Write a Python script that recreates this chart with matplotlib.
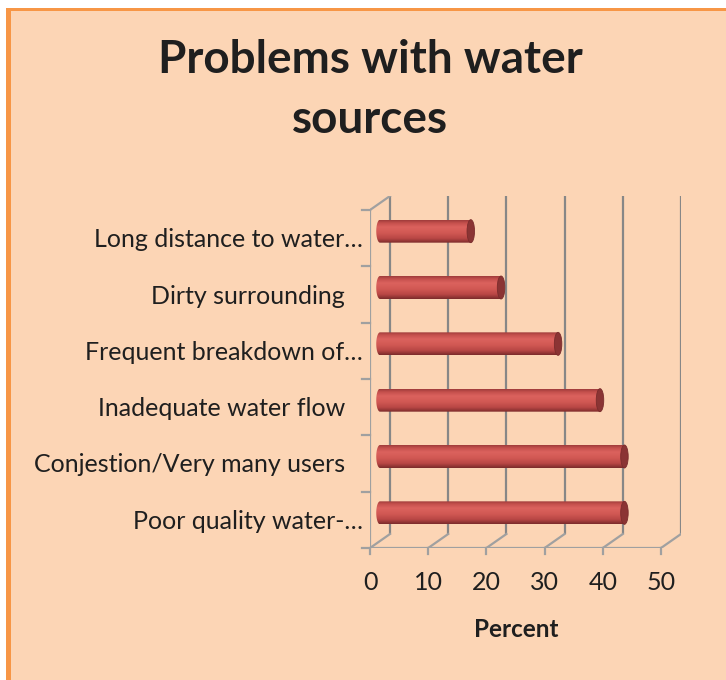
import numpy as np
import matplotlib
matplotlib.use("Agg")
import matplotlib.pyplot as plt
from matplotlib.patches import Ellipse, PathPatch, Rectangle
from matplotlib.path import Path
from matplotlib.transforms import ScaledTranslation
from matplotlib.colors import LinearSegmentedColormap

# ---- data ----
categories = ["Poor quality water-…", "Conjestion/Very many users",
              "Inadequate water flow", "Frequent breakdown of…",
              "Dirty surrounding", "Long distance to water…"]
values = [42.0, 42.0, 37.8, 30.6, 20.8, 15.6]
xticks = [0, 10, 20, 30, 40, 50]
title = "Problems with water\nsources"
xlabel = "Percent"

FONT = "Lato"
W, H = 726, 680
fig = plt.figure(figsize=(W / 100, H / 100), dpi=100)
fig.patch.set_facecolor("white")

# chart area with orange frame on the visible edges
fig.add_artist(Rectangle((6 / W, 0), 1, (H - 8) / H, transform=fig.transFigure,
                         facecolor="#F79646", edgecolor="none", zorder=0))
fig.add_artist(Rectangle((11 / W, 0), 1, (H - 11) / H, transform=fig.transFigure,
                         facecolor="#FCD5B5", edgecolor="none", zorder=0))

# plot area: front plane spans x 0..50, back plane shifted by the depth offset
front_w, depth_px_x, depth_px_y = 291, 20, 14
front_h = 338
ax = fig.add_axes([370 / W, 132 / H, (front_w + depth_px_x) / W,
                   (front_h + depth_px_y) / H])
ax.set_facecolor("none")
ax.axis("off")

xmax = xticks[-1]
n = len(categories)
dx = xmax * depth_px_x / front_w
dy = n * depth_px_y / front_h
px_x = front_w / xmax          # pixels per x unit
px_y = front_h / n             # pixels per category

grid_c = "#878787"
wall_c = "#A0A0A0"
lw = 1.6

# back wall gridlines
for v in xticks:
    ax.plot([v + dx, v + dx], [dy, n + dy], color=grid_c, lw=lw,
            solid_capstyle="butt", zorder=1)
# floor: front edge and depth diagonals
ax.plot([0, xmax], [0, 0], color=wall_c, lw=lw, zorder=1)
for v in xticks:
    ax.plot([v, v + dx], [0, dy], color=wall_c, lw=lw, zorder=1)
    ax.plot([v, v], [0, -6 / px_y], color=wall_c, lw=lw, zorder=1, clip_on=False)
# left wall
ax.plot([0, 0], [0, n], color=wall_c, lw=lw, zorder=1)
ax.plot([0, dx], [n, n + dy], color=wall_c, lw=lw, zorder=1)
for k in range(n + 1):
    ax.plot([-8 / px_x, 0], [k, k], color=wall_c, lw=lw, zorder=1, clip_on=False)

# cylinder bars
stops = [(0.0, "#9E3B3B"), (0.12, "#C44F4C"), (0.3, "#DB625E"),
         (0.55, "#D25954"), (0.8, "#B94745"), (1.0, "#7A2B2B")]
cmap = LinearSegmentedColormap.from_list("cyl", stops)
grad = np.linspace(0, 1, 128).reshape(-1, 1)
bar_h = 23 / px_y
cap_w = 7.5 / px_x
for i, val in enumerate(values):
    yc = i + 0.5 + dy / 2
    x0 = dx / 2
    x1 = val + dx / 2
    t = np.linspace(np.pi / 2, 3 * np.pi / 2, 40)
    left = np.column_stack([x0 + cap_w / 2 * np.cos(t), yc + bar_h / 2 * np.sin(t)])
    verts = np.vstack([left, [[x1, yc - bar_h / 2], [x1, yc + bar_h / 2], left[0]]])
    body = PathPatch(Path(verts), facecolor="none", edgecolor="none",
                     transform=ax.transData)
    ax.add_patch(body)
    im = ax.imshow(grad, cmap=cmap, aspect="auto", origin="upper",
                   extent=(x0 - cap_w / 2, x1, yc - bar_h / 2, yc + bar_h / 2),
                   zorder=3, interpolation="bilinear")
    im.set_clip_path(body)
    ax.add_patch(Ellipse((x1, yc), cap_w, bar_h, facecolor="#8B3434",
                         edgecolor="#7A2C2C", lw=0.6, zorder=4))

ax.set_xlim(0, xmax + dx)
ax.set_ylim(0, n + dy)

# category labels on the front of the left wall
for i, lab in enumerate(categories):
    off = -7 if lab.endswith("…") else -25
    tr = ax.transData + ScaledTranslation(off / 100, -9 / 100, fig.dpi_scale_trans)
    ax.text(0, i + 0.5, lab, transform=tr, ha="right", va="baseline",
            fontsize=18, family=FONT, color="#1F1F1F", clip_on=False)

# x tick labels
for v in xticks:
    tr = ax.transData + ScaledTranslation(0, -35 / 100, fig.dpi_scale_trans)
    ax.text(v, 0, str(v), transform=tr, ha="center", va="center",
            fontsize=18, family=FONT, color="#1F1F1F", clip_on=False)

fig.text(516 / W, 1 - 637 / H, xlabel, ha="center", va="baseline",
         fontsize=17.5, fontweight="bold", family=FONT, color="#1F1F1F")
fig.text(370 / W, 1 - 73 / H, "Problems with water", ha="center", va="baseline",
         fontsize=33, fontweight="bold", family=FONT, color="#1F1F1F")
fig.text(370 / W, 1 - 133 / H, "sources", ha="center", va="baseline",
         fontsize=33, fontweight="bold", family=FONT, color="#1F1F1F")

fig.savefig("out.png", dpi=100, facecolor=fig.get_facecolor())
